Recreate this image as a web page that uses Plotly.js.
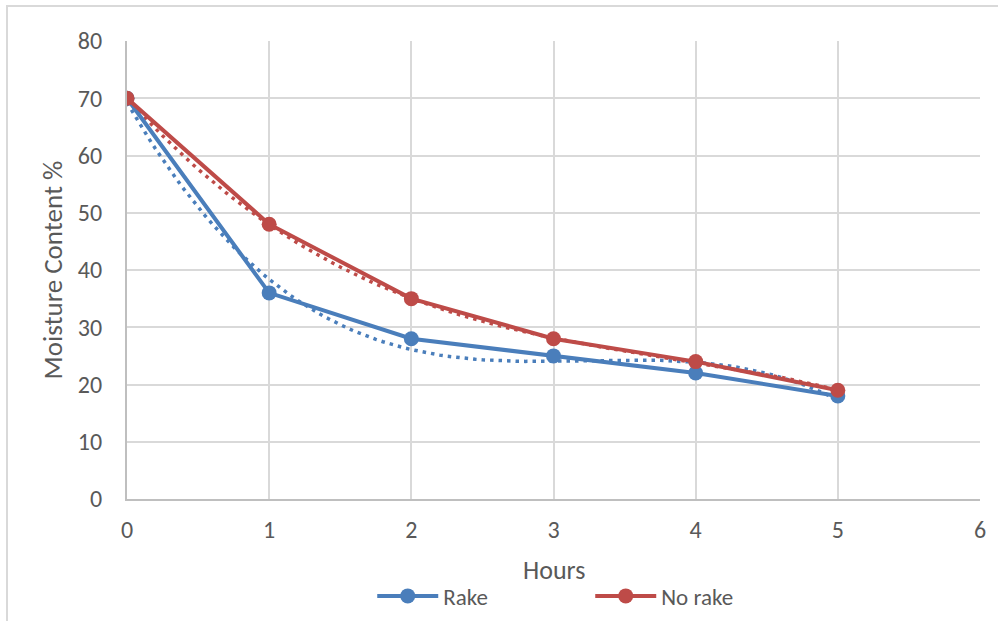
<!DOCTYPE html>
<html>
<head>
<meta charset="utf-8">
<script src="https://cdn.plot.ly/plotly-3.0.1.min.js"></script>
<style>
  html, body { margin: 0; padding: 0; background: #fff; }
  #wrap { position: relative; width: 998px; height: 621px; }
  #chart { position: absolute; left: 0; top: 0; width: 998px; height: 621px; }
  #frame { position: absolute; left: 6px; top: 5px; right: 0; bottom: 0;
           border-top: 2px solid #d9d9d9; border-left: 2px solid #d9d9d9; pointer-events: none; }
</style>
</head>
<body>
<div id="wrap">
  <div id="chart"></div>
  <div id="frame"></div>
</div>
<script>
// Drying time in hours and moisture content (%) for each treatment
const hours = [0, 1, 2, 3, 4, 5];
const rake = [70, 36, 28, 25, 22, 18];
const noRake = [70, 48, 35, 28, 24, 19];
const xTicks = [0, 1, 2, 3, 4, 5, 6];
const yTicks = [0, 10, 20, 30, 40, 50, 60, 70, 80];

const BLUE = '#4a7ebb';
const RED = '#be4b48';
const GREY_TEXT = '#595959';
const FONT = 'Carlito, Calibri, Lato, sans-serif';

// Least-squares polynomial fit (order 3), like a spreadsheet trendline
function polyFit(xs, ys, order) {
  const n = order + 1;
  const A = Array.from({length: n}, () => new Array(n + 1).fill(0));
  for (let k = 0; k < xs.length; k++) {
    const p = [];
    for (let i = 0; i < n; i++) p.push(Math.pow(xs[k], i));
    for (let i = 0; i < n; i++) {
      for (let j = 0; j < n; j++) A[i][j] += p[i] * p[j];
      A[i][n] += p[i] * ys[k];
    }
  }
  for (let i = 0; i < n; i++) {
    let piv = i;
    for (let r = i + 1; r < n; r++) if (Math.abs(A[r][i]) > Math.abs(A[piv][i])) piv = r;
    [A[i], A[piv]] = [A[piv], A[i]];
    for (let r = 0; r < n; r++) {
      if (r === i) continue;
      const f = A[r][i] / A[i][i];
      for (let c = i; c <= n; c++) A[r][c] -= f * A[i][c];
    }
  }
  return A.map((row, i) => row[n] / row[i]);
}

function trend(xs, ys) {
  const c = polyFit(xs, ys, 3);
  const tx = [], ty = [];
  const x0 = xs[0], x1 = xs[xs.length - 1];
  for (let i = 0; i <= 100; i++) {
    const x = x0 + (x1 - x0) * i / 100;
    tx.push(x);
    ty.push(c.reduce((s, ci, k) => s + ci * Math.pow(x, k), 0));
  }
  return {x: tx, y: ty};
}

const tRake = trend(hours, rake);
const tNoRake = trend(hours, noRake);

const data = [
  {x: tRake.x, y: tRake.y, mode: 'lines', line: {color: BLUE, width: 3.5, dash: '3.5px,5px'},
   showlegend: false, hoverinfo: 'skip'},
  {x: tNoRake.x, y: tNoRake.y, mode: 'lines', line: {color: RED, width: 3.5, dash: '3.5px,5px'},
   showlegend: false, hoverinfo: 'skip'},
  {x: hours, y: rake, name: 'Rake', mode: 'lines+markers',
   line: {color: BLUE, width: 4}, marker: {color: BLUE, size: 15}},
  {x: hours, y: noRake, name: 'No rake', mode: 'lines+markers',
   line: {color: RED, width: 4}, marker: {color: RED, size: 15}}
];

const layout = {
  width: 998, height: 621,
  margin: {l: 127, r: 18, t: 41, b: 122},
  paper_bgcolor: '#ffffff', plot_bgcolor: '#ffffff',
  font: {family: FONT, color: GREY_TEXT, size: 24},
  xaxis: {
    range: [0, 6], tickvals: xTicks, ticktext: xTicks.map(String),
    showgrid: true, gridcolor: '#d9d9d9', gridwidth: 2,
    zeroline: false, showline: true, linecolor: '#bfbfbf', linewidth: 2,
    ticks: '', ticklabelstandoff: 8, tickfont: {size: 24, color: GREY_TEXT},
    fixedrange: true, automargin: false
  },
  yaxis: {
    range: [0, 80], tickvals: yTicks, ticktext: yTicks.map(String),
    showgrid: true, gridcolor: '#d9d9d9', gridwidth: 2,
    zeroline: false, showline: true, linecolor: '#bfbfbf', linewidth: 2,
    ticks: '', ticklabelstandoff: 18, tickfont: {size: 24, color: GREY_TEXT},
    title: {text: 'Moisture Content %', font: {size: 27, color: GREY_TEXT}},
    fixedrange: true, automargin: false
  },
  // horizontal axis title, set just under the tick labels
  annotations: [{
    text: 'Hours', xref: 'paper', yref: 'paper', x: 0.5, y: 0,
    xanchor: 'center', yanchor: 'middle', yshift: -71, showarrow: false,
    font: {size: 26, color: GREY_TEXT}
  }],
  legend: {
    orientation: 'h', x: 0.2875, xanchor: 'left',
    yref: 'container', y: 0.0403, yanchor: 'middle',
    font: {size: 23, color: GREY_TEXT}, entrywidth: 142, entrywidthmode: 'pixels',
    itemwidth: 61, bgcolor: 'rgba(0,0,0,0)'
  },
  showlegend: true
};

Plotly.newPlot('chart', data, layout, {displayModeBar: false, staticPlot: true});
</script>
</body>
</html>
